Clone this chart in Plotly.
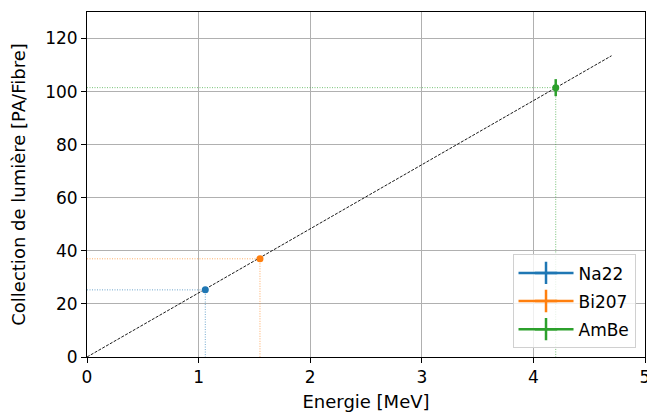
import plotly.graph_objects as go

sources = ["Na22", "Bi207", "AmBe"]
energies = [1.06, 1.55, 4.2]
light = [25.3, 37.0, 101.5]
light_err = [0.8, 0.6, 3.2]
colors = ["#1f77b4", "#ff7f0e", "#2ca02c"]
fit_x = [0.0, 4.7]
fit_slope = 24.15

FONT = "DejaVu Sans"
FS = 17
FT = 18

fig = go.Figure()

# guide lines (dotted) from points to axes
for e, l, c in zip(energies, light, colors):
    fig.add_trace(go.Scatter(x=[0, e, e], y=[l, l, 0], mode="lines",
                             line=dict(color=c, width=0.8, dash="1px,1.5px"),
                             opacity=0.8, showlegend=False, hoverinfo="skip"))

# fit line
fig.add_trace(go.Scatter(x=fit_x, y=[fit_slope * v for v in fit_x], mode="lines",
                         line=dict(color="black", width=0.9, dash="3px,1.4px"),
                         showlegend=False, hoverinfo="skip"))

for s, e, l, err, c in zip(sources, energies, light, light_err, colors):
    fig.add_trace(go.Scatter(x=[e], y=[l], mode="markers", name=s,
                             marker=dict(color=c, size=7),
                             error_y=dict(type="data", array=[err], color=c,
                                          thickness=2.5, width=0),
                             showlegend=False))
    # legend entry (errorbar-style icon)
    fig.add_trace(go.Scatter(x=[None], y=[None], mode="lines+markers", name=s,
                             legendgroup=s,
                             line=dict(color=c, width=2.5),
                             marker=dict(color=c, symbol="cross-thin", size=16,
                                         line=dict(color=c, width=2.5))))

axis_common = dict(showline=True, linecolor="black", linewidth=1, mirror=True,
                   ticks="outside", ticklen=5, tickcolor="black", tickwidth=1,
                   showgrid=True, gridcolor="#b0b0b0", gridwidth=1,
                   zeroline=False, automargin=False, ticklabeloverflow="allow",
                   tickfont=dict(family=FONT, size=FS, color="black"))

fig.update_layout(
    width=647, height=412,
    margin=dict(l=87, r=2, t=12, b=55),
    plot_bgcolor="white", paper_bgcolor="white",
    font=dict(family=FONT, size=FS, color="black"),
    xaxis=dict(range=[0, 5], tickvals=[0, 1, 2, 3, 4, 5],
               title=dict(text="Energie [MeV]", standoff=12,
                          font=dict(family=FONT, size=FT)),
               **axis_common),
    yaxis=dict(range=[0, 130], tickvals=[0, 20, 40, 60, 80, 100, 120],
               title=dict(text="Collection de lumière [PA/Fibre]", standoff=14,
                          font=dict(family=FONT, size=FT)),
               **axis_common),
    legend=dict(x=0.983, y=0.025, xanchor="right", yanchor="bottom",
                bgcolor="rgba(255,255,255,0.8)", bordercolor="#d0d0d0", borderwidth=1,
                tracegroupgap=3, itemwidth=55,
                font=dict(family=FONT, size=FS)),
)

fig.write_html("out.html",
               config={"displayModeBar": False},
               post_script="document.body.style.margin='0';document.body.style.overflow='hidden';")
